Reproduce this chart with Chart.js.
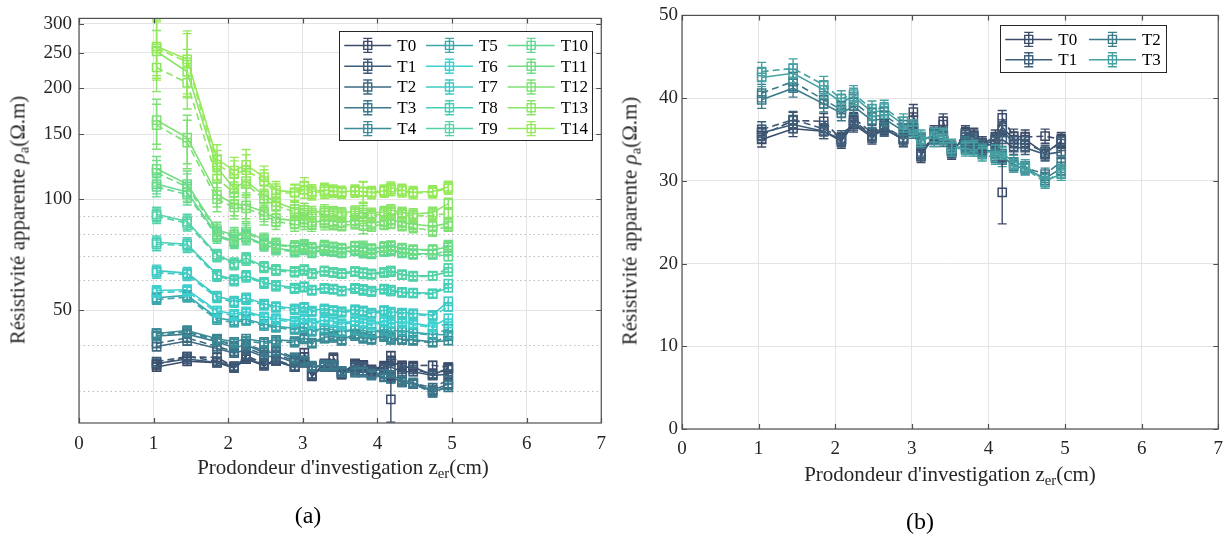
<!DOCTYPE html>
<html><head><meta charset="utf-8">
<script src="https://cdn.jsdelivr.net/npm/chart.js@4.4.1/dist/chart.umd.min.js"></script>
<style>
body{margin:0;background:#fff;width:1232px;height:538px;overflow:hidden;position:relative;font-family:"Liberation Serif",serif;color:#262626}
canvas{position:absolute;top:0}
.t{position:absolute;white-space:nowrap;transform:translate(-50%,-50%);font-size:21px;line-height:1}
.ty{transform:translate(-50%,-50%) rotate(-90deg)}
.cap{font-size:24px;color:#000}
sub{font-size:70%;vertical-align:-0.3em;line-height:0}
</style></head><body>
<canvas id="ca" width="616" height="538" style="left:0"></canvas>
<canvas id="cb" width="616" height="538" style="left:616px"></canvas>
<div class="t" style="left:343px;top:467px">Prodondeur d'investigation z<sub>er</sub>(cm)</div>
<div class="t" style="left:950px;top:474px">Prodondeur d'investigation z<sub>er</sub>(cm)</div>
<div class="t ty" style="left:18px;top:220px">Résistivité apparente <i>ρ</i><sub>a</sub>(Ω.m)</div>
<div class="t ty" style="left:630px;top:221px">Résistivité apparente <i>ρ</i><sub>a</sub>(Ω.m)</div>
<div class="t cap" style="left:308px;top:515px">(a)</div>
<div class="t cap" style="left:920px;top:521px">(b)</div>
<script>
// ---------- data ----------
const depth = [1.04,1.45,1.85,2.08,2.24,2.48,2.64,2.89,3.02,3.12,3.29,3.41,3.52,3.70,3.81,3.92,4.09,4.18,4.33,4.48,4.74,4.95];
const labelsLeft = ['T0','T1','T2','T3','T4','T5','T6','T7','T8','T9','T10','T11','T12','T13','T14'];
const labelsRight = ['T0','T1','T2','T3'];

const T0_solid  = [35.0,36.3,36.0,34.8,36.8,35.3,36.3,35.0,37.3,33.0,35.5,36.8,33.4,35.6,35.3,34.3,35.0,36.5,35.0,35.0,33.3,34.8];
const T0_dashed = [35.5,37.3,37.2,35.0,37.3,35.5,36.5,35.0,38.3,33.2,35.8,37.2,33.6,35.8,35.5,34.5,35.3,37.6,35.4,35.3,35.4,35.0];
const T1_solid  = [35.8,36.8,36.0,35.0,37.0,35.5,36.3,35.0,36.0,33.5,35.0,35.6,33.8,35.0,34.8,34.2,34.5,35.0,34.0,34.0,33.2,33.5];
const T1_dashed = [36.2,37.4,36.3,35.2,37.6,35.8,36.6,35.2,36.3,33.3,35.4,35.4,33.6,35.3,35.0,34.0,34.8,36.2,34.5,34.5,33.5,34.5];
const T2_solid  = [39.8,41.2,39.3,38.2,39.0,37.3,37.5,36.0,36.3,35.0,35.3,35.0,33.8,34.3,34.2,33.7,33.6,33.0,31.8,31.5,30.3,31.5];
const T2_dashed = [40.6,42.0,39.8,38.6,39.5,37.8,37.9,36.4,36.0,34.8,35.6,35.2,34.0,34.5,34.0,33.5,33.0,32.8,32.0,31.6,30.8,32.3];
const T3_solid  = [42.5,43.0,41.0,39.5,40.2,38.3,38.5,36.8,36.5,35.3,35.0,35.5,34.2,33.8,34.0,33.5,33.5,33.3,32.3,31.8,30.0,30.8];
const T3_dashed = [43.2,43.6,41.6,39.9,40.5,38.7,38.8,37.2,36.2,35.0,35.5,35.3,33.8,34.0,33.8,33.2,32.8,32.5,31.8,31.5,29.8,31.2];
const T4_solid  = [43.2,44.0,41.8,41.0,41.8,41.0,41.5,41.2,42.0,40.8,42.2,42.5,41.5,43.0,42.2,41.8,42.6,42.0,41.7,41.5,41.0,41.3];
const T4_dashed = [42.6,43.6,41.2,40.6,41.2,40.6,41.0,40.8,41.6,40.5,41.8,42.0,41.2,42.5,41.8,41.5,42.2,41.5,41.4,41.2,40.8,42.5];
const T5_solid  = [54.0,54.8,47.6,46.8,47.2,45.8,45.2,44.6,45.0,44.0,44.6,44.2,43.8,44.4,44.0,43.6,44.3,43.8,44.0,43.5,43.0,42.8];
const T5_dashed = [53.4,54.2,47.0,46.3,46.8,45.3,44.8,44.2,44.7,43.7,44.2,43.9,43.5,44.1,43.7,43.3,44.0,43.5,43.7,43.2,42.8,44.5];
const T6_solid  = [56.5,56.8,49.8,48.8,49.5,48.0,47.5,46.8,47.5,46.2,47.0,46.6,46.0,46.8,46.3,45.8,46.8,46.2,46.5,46.0,45.2,47.5];
const T6_dashed = [55.8,56.2,49.2,48.3,49.0,47.6,47.0,46.4,47.0,45.8,46.6,46.2,45.6,46.4,45.9,45.4,46.3,45.8,46.0,45.6,44.8,46.0];
const T7_solid  = [64.0,63.0,54.6,52.9,54.0,52.0,51.2,50.5,51.0,49.8,50.5,50.0,49.6,50.2,49.8,49.2,50.0,49.5,49.2,49.0,48.5,52.8];
const T7_dashed = [63.2,62.4,54.0,52.4,53.4,51.5,50.8,50.0,50.6,49.4,50.0,49.6,49.2,49.8,49.4,48.8,49.6,49.0,48.8,48.6,48.2,51.0];
const T8_solid  = [76.4,75.5,62.4,60.5,62.0,59.5,58.5,57.5,58.0,56.8,57.5,57.2,56.5,57.5,57.0,56.5,57.2,56.8,56.0,55.8,55.5,57.5];
const T8_dashed = [75.5,74.8,61.8,60.0,61.5,59.0,58.0,57.0,57.6,56.5,57.0,56.8,56.2,57.0,56.5,56.0,56.8,56.2,55.7,55.5,55.2,59.0];
const T9_solid  = [91.0,87.0,70.7,67.1,69.2,65.7,64.5,63.8,64.5,63.0,64.0,63.5,63.0,63.8,63.2,62.8,63.5,64.0,62.5,62.0,62.0,63.5];
const T9_dashed = [90.0,86.0,70.0,66.5,68.5,65.2,64.0,63.3,64.0,62.6,63.6,63.0,62.6,63.4,62.8,62.4,63.0,63.4,62.2,61.6,61.8,65.0];
const T10_solid  = [110.0,104.6,80.0,77.0,79.0,75.5,73.6,72.5,73.5,72.0,73.0,72.5,71.8,72.8,72.2,71.5,72.5,73.0,71.8,71.2,71.0,70.0];
const T10_dashed = [108.0,103.0,79.2,76.5,78.5,75.0,73.0,72.0,73.0,71.6,72.6,72.0,71.4,72.4,71.8,71.0,72.0,72.4,71.4,70.8,70.8,72.5];
const T11_solid  = [121.0,110.0,82.5,80.0,81.7,77.6,75.5,74.5,75.0,73.8,74.8,74.2,73.6,74.6,74.0,73.4,74.4,74.8,73.6,73.0,73.0,74.0];
const T11_dashed = [118.0,108.0,81.5,79.2,80.8,77.0,75.0,74.0,74.6,73.4,74.2,73.8,73.2,74.2,73.6,73.0,74.0,74.4,73.2,72.6,72.8,75.0];
const T12_solid  = [164.0,147.0,103.0,97.0,96.3,92.4,88.6,87.5,88.0,86.5,87.5,87.0,86.5,87.5,87.0,86.2,87.2,88.0,86.5,85.5,84.5,86.0];
const T12_dashed = [159.0,142.5,100.0,95.0,94.5,90.5,87.0,85.5,86.5,85.0,85.8,85.4,84.8,85.8,85.2,84.6,85.5,86.0,84.8,83.8,82.0,84.5];
const T13_solid  = [252.0,222.0,122.0,107.0,112.0,102.5,98.3,94.0,93.4,92.0,93.0,92.5,91.8,92.8,92.2,91.5,92.5,93.5,92.0,91.2,92.0,97.3];
const T13_dashed = [228.0,207.0,114.0,104.0,110.0,100.0,96.0,92.5,92.0,90.8,91.8,91.2,90.5,91.5,91.0,90.2,91.2,92.0,90.8,90.0,90.5,91.5];
const T14_solid  = [260.0,240.0,128.6,119.6,124.0,114.8,105.7,104.6,109.0,105.0,106.0,105.5,104.8,105.5,105.0,104.5,105.5,107.5,106.0,104.5,105.0,108.0];
const T14_dashed = [257.0,236.0,124.0,117.0,120.0,112.0,104.0,104.0,106.0,104.0,105.0,104.8,104.2,105.0,104.6,104.0,105.0,106.0,105.2,104.0,104.5,107.0];

const outlierDepth = [4.18];
const outlierRes = [28.6];
const outlierErr = [3.8];

// relative error (%) at plateau / at shallow depths, and depth weighting
const errPlateauPct = [2.4,2.4,2.4,2.4,2.4,2.5,2.5,2.5,2.5,2.6,2.8,3.0,3.2,3.4,3.6];
const errStartPct   = [2.6,2.6,2.6,2.6,2.8,3.0,3.0,3.5,4.0,4.5,6.0,8.0,14.0,14.0,18.0];
const errDepthWeight = [1,1.1,0.4,0.35,0.45,0.25,0.15,0.1,0.1,0.05,0.05,0,0,0,0.2,0,0,0,0,0,0,0];

const xTicks = [0,1,2,3,4,5,6,7];
const yLeftMajor = [50,100,150,200,250,300];
const yLeftMinor = [30,40,60,70,80,90];
const yRightTicks = [0,10,20,30,40,50];

const leftSolid  = [T0_solid,T1_solid,T2_solid,T3_solid,T4_solid,T5_solid,T6_solid,T7_solid,T8_solid,T9_solid,T10_solid,T11_solid,T12_solid,T13_solid,T14_solid];
const leftDashed = [T0_dashed,T1_dashed,T2_dashed,T3_dashed,T4_dashed,T5_dashed,T6_dashed,T7_dashed,T8_dashed,T9_dashed,T10_dashed,T11_dashed,T12_dashed,T13_dashed,T14_dashed];

const colorsLeft = ['#3c4b69','#3d5a77','#3d6982','#3c798c','#3b8b97','#3aa8ac','#3ecfcf','#3fcac3','#47cfb6','#53d3a6','#62d893','#70dc84','#7ee074','#8ae567','#96ea5a'];
const colorsRight = ['#3c4b69','#3e5e79','#3b7b8a','#46a1a3'];

// ---------- helpers ----------
const FAMILY = 'Liberation Serif';
Chart.defaults.font.family = FAMILY;
function pts(xs, vals){ return xs.map((d,i)=>({x:d,y:vals[i]})); }
function errs(vals,k){ return vals.map((v,i)=> v*(errPlateauPct[k]+(errStartPct[k]-errPlateauPct[k])*errDepthWeight[i])/100); }

function buildSets(labels, solids, dashes, colors){
  const sets=[];
  labels.forEach((lab,k)=>{
    [[solids[k],[]],[dashes[k],[7,4]]].forEach(([vals,dash],j)=>{
      sets.push({label: lab+(j?' bis':''), data: pts(depth,vals), errors: errs(vals,k),
        borderColor: colors[k], borderDash: dash, borderWidth:1.6,
        pointStyle:'rect', pointRadius:5.8, pointBorderWidth:1.5,
        pointBackgroundColor:'rgba(0,0,0,0)', pointBorderColor: colors[k],
        pointHoverRadius:5.8, fill:false, tension:0, order: 500 - sets.length});
    });
  });
  sets.push({label:'T0 *', data: pts(outlierDepth,outlierRes), errors: outlierErr.slice(), showLine:false,
    borderColor: colors[0], pointStyle:'rect', pointRadius:5.8, pointBorderWidth:1.5,
    pointBackgroundColor:'rgba(0,0,0,0)', pointBorderColor: colors[0], order: 0});
  return sets;
}

const errorBars = {
  id:'errorBars',
  afterDatasetsDraw(chart){
    const {ctx, chartArea:a} = chart; const ys = chart.scales.y;
    ctx.save(); ctx.beginPath(); ctx.rect(a.left,a.top,a.right-a.left,a.bottom-a.top); ctx.clip();
    ctx.setLineDash([]); ctx.lineWidth = 1.4;
    chart.data.datasets.forEach((ds,i)=>{
      if(!ds.errors) return;
      const meta = chart.getDatasetMeta(i);
      ctx.strokeStyle = ds.borderColor;
      meta.data.forEach((pt,j)=>{
        const v = ds.data[j].y, e = ds.errors[j];
        const lo = Math.max(v-e, 1e-3);
        const y1 = ys.getPixelForValue(lo), y2 = ys.getPixelForValue(v+e);
        ctx.beginPath();
        ctx.moveTo(pt.x,y1); ctx.lineTo(pt.x,y2);
        ctx.moveTo(pt.x-4.5,y1); ctx.lineTo(pt.x+4.5,y1);
        ctx.moveTo(pt.x-4.5,y2); ctx.lineTo(pt.x+4.5,y2);
        ctx.stroke();
      });
    });
    ctx.restore();
  }
};

const frame = {
  id:'frame',
  afterDraw(chart, args, o){
    const {ctx, chartArea:a, scales:{x,y}} = chart;
    ctx.save(); ctx.setLineDash([]);
    ctx.strokeStyle='#505050'; ctx.lineWidth=1.2;
    ctx.strokeRect(a.left, a.top, a.right-a.left, a.bottom-a.top);
    ctx.beginPath();
    o.xTicks.forEach(v=>{ const p=Math.round(x.getPixelForValue(v))+0.5;
      ctx.moveTo(p,a.bottom); ctx.lineTo(p,a.bottom-5); ctx.moveTo(p,a.top); ctx.lineTo(p,a.top+5); });
    o.yTicks.forEach(v=>{ const p=Math.round(y.getPixelForValue(v))+0.5;
      ctx.moveTo(a.left,p); ctx.lineTo(a.left+5,p); ctx.moveTo(a.right,p); ctx.lineTo(a.right-5,p); });
    ctx.stroke();
    ctx.restore();
  }
};

const boxLegend = {
  id:'boxLegend',
  afterDraw(chart, args, o){
    const ctx=chart.ctx, a=chart.chartArea;
    const right=a.right-o.offRight, top=a.top+o.offTop, left=right-o.width;
    ctx.save(); ctx.setLineDash([]);
    ctx.fillStyle='#fff'; ctx.fillRect(left,top,o.width,o.height);
    ctx.strokeStyle='#262626'; ctx.lineWidth=1;
    ctx.strokeRect(Math.round(left)+0.5, Math.round(top)+0.5, o.width, o.height);
    ctx.font='17px "' + FAMILY + '"'; ctx.textBaseline='middle'; ctx.textAlign='left';
    o.labels.forEach((lab,k)=>{
      const c=Math.floor(k/o.rows), r=k%o.rows;
      const x0=left+5+c*o.colW, yy=top+14+r*o.rowH;
      ctx.strokeStyle=o.colors[k]; ctx.lineWidth=1.5;
      ctx.beginPath(); ctx.moveTo(x0,yy); ctx.lineTo(x0+47,yy); ctx.stroke();
      const mx=x0+23.5;
      ctx.lineWidth=1.4;
      ctx.beginPath(); ctx.rect(mx-4,yy-4,8,8);
      ctx.moveTo(mx,yy-7); ctx.lineTo(mx,yy+7);
      ctx.moveTo(mx-4.5,yy-7); ctx.lineTo(mx+4.5,yy-7);
      ctx.moveTo(mx-4.5,yy+7); ctx.lineTo(mx+4.5,yy+7);
      ctx.stroke();
      ctx.fillStyle='#000'; ctx.fillText(lab, x0+53, yy+1);
    });
    ctx.restore();
  }
};

const tickFont = {family: FAMILY, size: 19};
const gridMajor = '#e4e4e4';
const minorSet = new Set(yLeftMinor);

new Chart(document.getElementById('ca'), {
  type:'line',
  data:{datasets: buildSets(labelsLeft, leftSolid, leftDashed, colorsLeft)},
  options:{
    responsive:false, animation:false, events:[],
    layout:{padding:{left:0,right:8,top:15,bottom:0}},
    plugins:{legend:{display:false}, tooltip:{enabled:false},
      frame:{xTicks:xTicks, yTicks:yLeftMajor},
      boxLegend:{labels:labelsLeft, colors:colorsLeft, offRight:9, offTop:13, width:253, height:109, rows:5, rowH:20.8, colW:81.7}},
    scales:{
      x:{type:'linear', min:0, max:7,
        afterBuildTicks:s=>{ s.ticks = xTicks.map(v=>({value:v})); },
        afterFit:s=>{ s.height = 115; },
        ticks:{font:tickFont, color:'#262626', padding:10, autoSkip:false, maxRotation:0, callback:v=>String(v)},
        grid:{color:gridMajor, drawTicks:false}, border:{display:false}},
      y:{type:'logarithmic', min:24.67, max:310,
        afterBuildTicks:s=>{ s.ticks = yLeftMinor.concat(yLeftMajor).sort((p,q)=>p-q).map(v=>({value:v})); },
        afterFit:s=>{ s.width = 79; },
        ticks:{font:tickFont, color:'#262626', padding:7, autoSkip:false, callback:v=> yLeftMajor.includes(v)?String(v):''},
        grid:{color:c=> (c.tick && minorSet.has(c.tick.value)) ? '#bdbdbd' : gridMajor, drawTicks:false},
        border:{display:false, dash:c=> (c.tick && minorSet.has(c.tick.value)) ? [1.5,3] : []}}
    }
  },
  plugins:[errorBars, frame, boxLegend]
});

new Chart(document.getElementById('cb'), {
  type:'line',
  data:{datasets: buildSets(labelsRight, leftSolid.slice(0,4), leftDashed.slice(0,4), colorsRight)},
  options:{
    responsive:false, animation:false, events:[],
    layout:{padding:{left:0,right:12,top:15,bottom:0}},
    plugins:{legend:{display:false}, tooltip:{enabled:false},
      frame:{xTicks:xTicks, yTicks:yRightTicks},
      boxLegend:{labels:labelsRight, colors:colorsRight, offRight:52, offTop:10, width:166, height:47, rows:2, rowH:20.3, colW:83.7}},
    scales:{
      x:{type:'linear', min:0, max:7,
        afterBuildTicks:s=>{ s.ticks = xTicks.map(v=>({value:v})); },
        afterFit:s=>{ s.height = 109; },
        ticks:{font:tickFont, color:'#262626', padding:9, autoSkip:false, maxRotation:0, callback:v=>String(v)},
        grid:{color:gridMajor, drawTicks:false}, border:{display:false}},
      y:{type:'linear', min:0, max:50,
        afterBuildTicks:s=>{ s.ticks = yRightTicks.map(v=>({value:v})); },
        afterFit:s=>{ s.width = 66; },
        ticks:{font:tickFont, color:'#262626', padding:4, autoSkip:false, callback:v=>String(v)},
        grid:{color:gridMajor, drawTicks:false}, border:{display:false}}
    }
  },
  plugins:[errorBars, frame, boxLegend]
});
</script>
</body></html>
